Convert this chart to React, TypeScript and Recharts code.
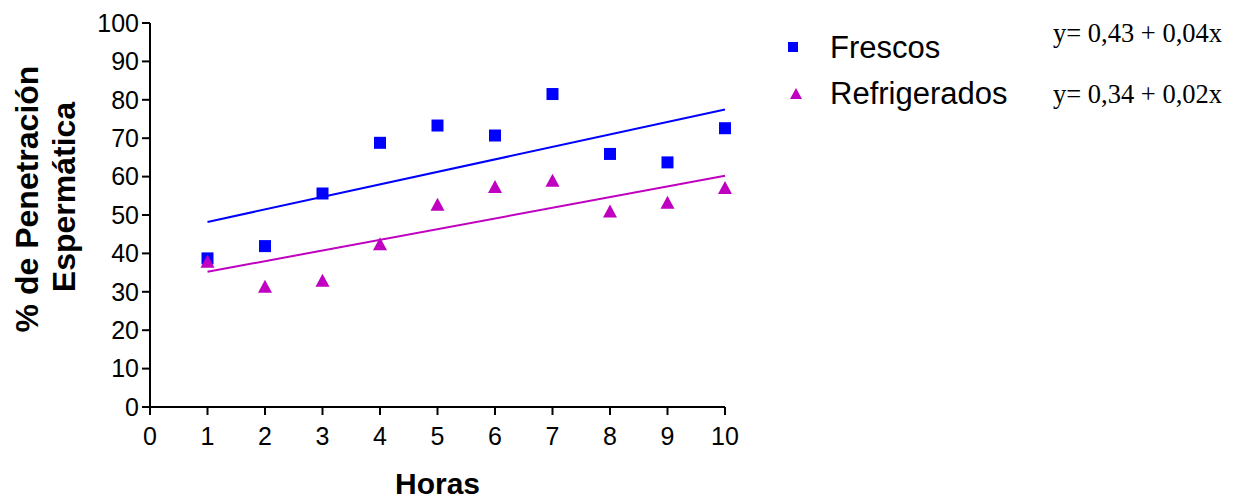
import * as React from 'react';
import { ComposedChart, XAxis, YAxis, Scatter, Line } from 'recharts';

// hours
const horas = [1, 2, 3, 4, 5, 6, 7, 8, 9, 10];
// % penetration
const frescos = [38.7, 41.9, 55.6, 68.8, 73.3, 70.7, 81.5, 65.9, 63.7, 72.6];
const refrigerados = [37.8, 31.3, 32.9, 42.4, 52.7, 57.3, 58.9, 50.9, 53.2, 57.0];
// fitted line endpoints (x = 1 and x = 10)
const trendX = [1, 10];
const trendFrescos = [48.2, 77.5];
const trendRefrigerados = [35.2, 60.2];

const xTicks = [0, 1, 2, 3, 4, 5, 6, 7, 8, 9, 10];
const yTicks = [0, 10, 20, 30, 40, 50, 60, 70, 80, 90, 100];

const BLUE = '#0000FF';
const MAGENTA = '#C000C0';
const SANS = '"Liberation Sans", Arial, sans-serif';
const SERIF = '"Liberation Serif", "Times New Roman", serif';

const frescosData = horas.map((x, i) => ({ x, y: frescos[i] }));
const refrigData = horas.map((x, i) => ({ x, y: refrigerados[i] }));
const trendFData = trendX.map((x, i) => ({ x, y: trendFrescos[i] }));
const trendRData = trendX.map((x, i) => ({ x, y: trendRefrigerados[i] }));

const Square = (props: any) => {
  const { cx, cy } = props;
  if (cx == null || cy == null) return null;
  return <rect x={cx - 6} y={cy - 6} width={12} height={12} fill={BLUE} />;
};

const Triangle = (props: any) => {
  const { cx, cy } = props;
  if (cx == null || cy == null) return null;
  return <polygon points={`${cx},${cy - 7} ${cx - 7},${cy + 6} ${cx + 7},${cy + 6}`} fill={MAGENTA} />;
};

const tickStyle = { fill: '#000', fontSize: 25, fontFamily: SANS };
const axisStroke = { stroke: '#000', strokeWidth: 2 };

const XTitle = (props: any) => {
  const vb = props.viewBox || {};
  return (
    <text x={vb.x + vb.width / 2} y={494} textAnchor="middle" fontFamily={SANS} fontWeight="bold" fontSize={30} fill="#000">
      Horas
    </text>
  );
};

const YTitle = () => (
  <g fontFamily={SANS} fontWeight="bold" fontSize={32} fill="#000">
    <text x={38} y={199} textAnchor="middle" transform="rotate(-90, 38, 199)">% de Penetración</text>
    <text x={75} y={197} textAnchor="middle" transform="rotate(-90, 75, 197)">Espermática</text>
  </g>
);

export default function App() {
  return (
    <div style={{ position: 'absolute', left: 0, top: 0, width: 1241, height: 499, background: '#fff' }}>
      <ComposedChart width={1241} height={499} margin={{ top: 23, right: 516, bottom: 32, left: 90 }}>
        <XAxis
          type="number"
          dataKey="x"
          domain={[0, 10]}
          ticks={xTicks}
          interval={0}
          height={60}
          tickSize={8}
          tickMargin={12}
          tick={tickStyle}
          axisLine={axisStroke}
          tickLine={axisStroke}
          label={{ content: XTitle }}
        />
        <YAxis
          type="number"
          domain={[0, 100]}
          ticks={yTicks}
          interval={0}
          width={60}
          tickSize={8}
          tickMargin={3}
          tick={tickStyle}
          axisLine={axisStroke}
          tickLine={axisStroke}
          label={{ content: YTitle }}
        />
        <Line data={trendFData} dataKey="y" type="linear" stroke={BLUE} strokeWidth={2} dot={false} activeDot={false} isAnimationActive={false} />
        <Line data={trendRData} dataKey="y" type="linear" stroke={MAGENTA} strokeWidth={2} dot={false} activeDot={false} isAnimationActive={false} />
        <Scatter data={frescosData} dataKey="y" shape={Square} isAnimationActive={false} />
        <Scatter data={refrigData} dataKey="y" shape={Triangle} isAnimationActive={false} />
      </ComposedChart>

      {/* legend */}
      <svg width={30} height={120} style={{ position: 'absolute', left: 780, top: 0 }}>
        <rect x={8} y={42} width={10} height={10} fill={BLUE} />
        <polygon points="16,88 10,99 22,99" fill={MAGENTA} />
      </svg>
      <div style={{ position: 'absolute', left: 830, top: 33, fontFamily: SANS, fontSize: 31, lineHeight: '30px', color: '#000' }}>Frescos</div>
      <div style={{ position: 'absolute', left: 830, top: 79, fontFamily: SANS, fontSize: 31, lineHeight: '30px', color: '#000' }}>Refrigerados</div>
      <div style={{ position: 'absolute', left: 1053, top: 20, fontFamily: SERIF, fontSize: 26.5, lineHeight: '26px', color: '#000', whiteSpace: 'nowrap' }}>y= 0,43 + 0,04x</div>
      <div style={{ position: 'absolute', left: 1053, top: 81, fontFamily: SERIF, fontSize: 26.5, lineHeight: '26px', color: '#000', whiteSpace: 'nowrap' }}>y= 0,34 + 0,02x</div>
    </div>
  );
}
